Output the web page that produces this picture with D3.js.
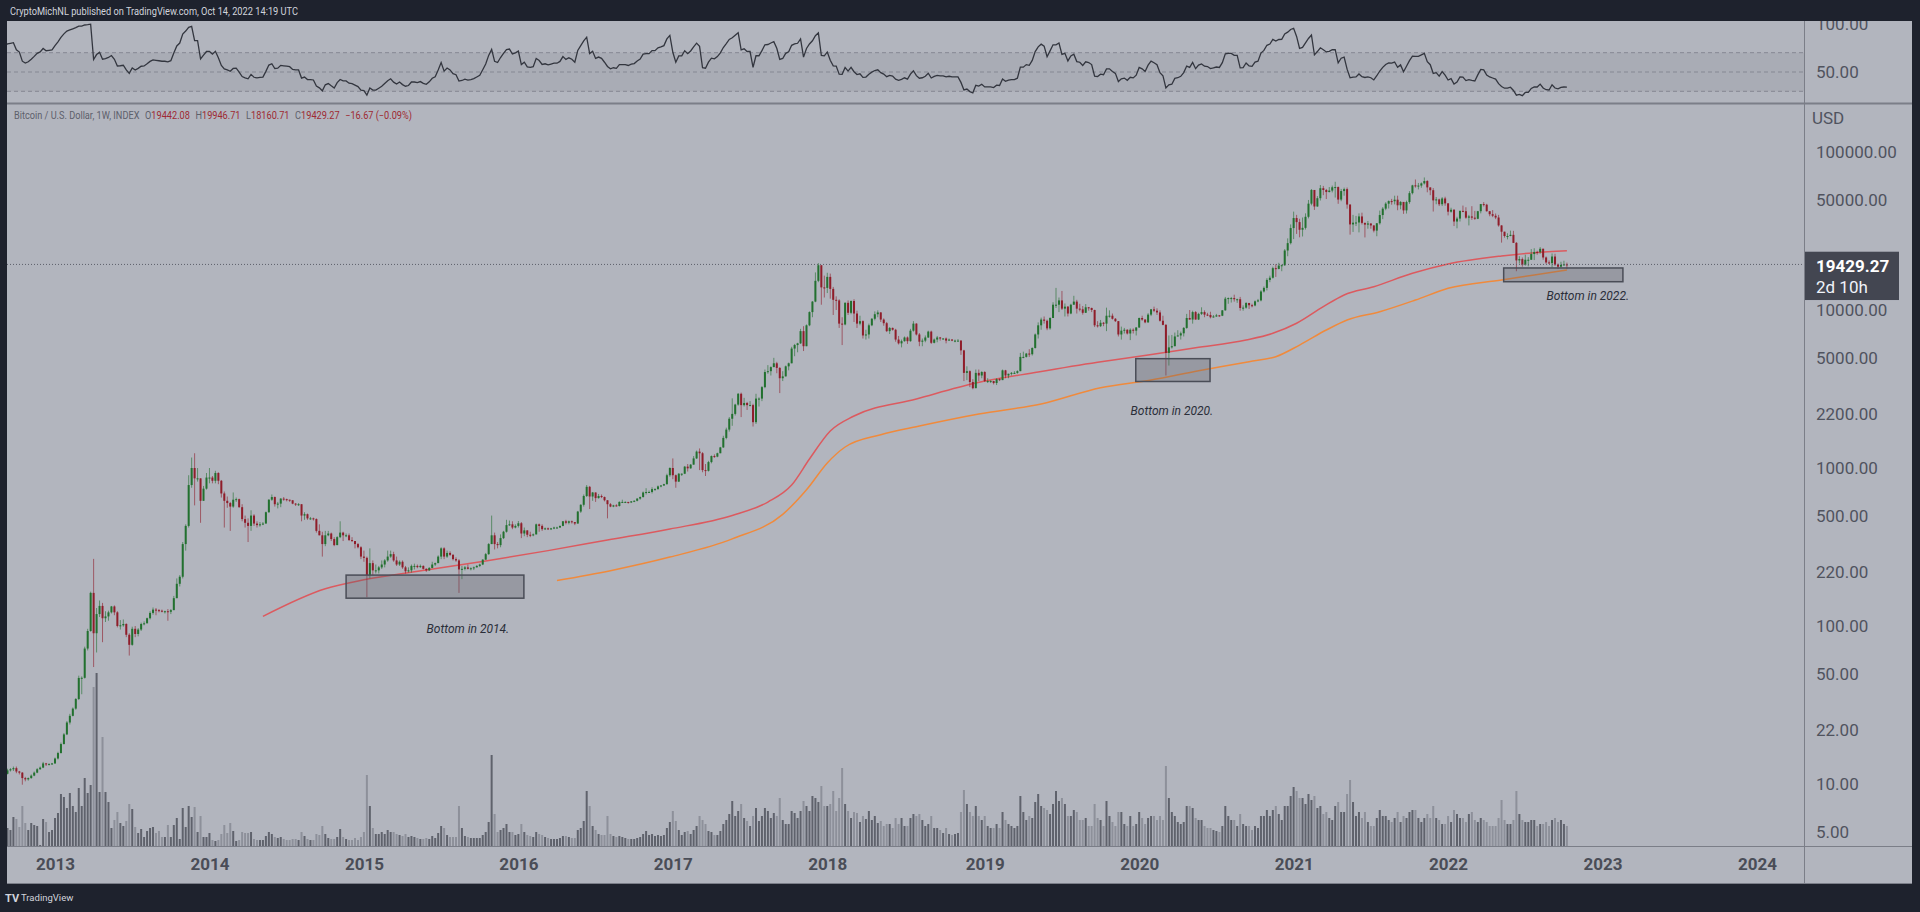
<!DOCTYPE html>
<html><head><meta charset="utf-8"><title>BTC weekly</title>
<script src="https://cdn.jsdelivr.net/npm/d3@7"></script>
<style>
html,body{margin:0;padding:0;background:#1e222d;overflow:hidden}
text{font-family:Roboto,"Noto Sans",Arial,sans-serif}
</style></head><body>
<svg id="chart" width="1920" height="912"></svg>
<script>
// ===== DATA (weekly bars, Monday weeks starting 2012-01-02; rows = [close, high, low, volume]) =====
const firstWeek = "2012-01-02";
const firstOpen = 5.2;
const y2012 = [
[6.9,7.2,5.2,20],[6.8,7.4,6.2,22],[6.3,6.9,5.9,18],[5.7,6.4,5.3,17],[5.9,6.2,5.4,15],
[5.6,6.0,5.4,14],[4.6,5.6,4.2,20],[4.9,5.0,4.3,18],[4.9,5.1,4.7,12],
[5.0,5.1,4.8,12],[5.3,5.5,4.9,12],[4.7,5.3,4.6,13],[4.9,5.0,4.7,11],
[4.9,5.0,4.8,10],[4.9,5.0,4.8,9],[5.1,5.2,4.9,9],[5.0,5.2,4.9,9],[5.0,5.1,4.9,8],
[5.0,5.1,4.9,8],[5.1,5.2,5.0,7],[5.1,5.2,5.0,7],[5.2,5.3,5.1,7],
[5.5,5.6,5.2,9],[5.9,6.1,5.5,10],[6.4,6.6,5.9,11],[6.7,6.9,6.3,11],
[6.6,6.9,6.4,10],[7.1,7.3,6.6,11],[8.5,8.9,7.1,15],[8.8,9.0,8.3,13],[9.3,9.6,8.8,12],
[10.9,11.2,9.2,16],[9.7,15.4,7.1,30],[10.1,10.9,9.3,16],[10.3,10.9,9.9,12],
[11.0,11.2,10.2,12],[11.6,11.8,10.9,14],[12.2,12.5,11.5,18],[12.4,12.6,12.0,16],
[12.6,12.9,12.1,29],[12.0,12.9,11.7,27],[11.8,12.1,11.5,19],[10.9,11.9,9.9,40],[10.7,11.1,10.4,23],
[10.9,11.0,10.5,16],[11.3,11.5,10.8,23],[11.8,12.0,11.2,21],[12.4,12.6,11.7,20],
[12.7,12.9,12.3,1],[13.5,13.8,12.6,27],[13.3,13.6,13.0,24],[13.4,13.5,13.1,14],[13.5,13.6,13.2,16]
];
const y2013 = [
[14.5,14.7,13.4,28],[15.7,16.0,14.3,33],[17.9,18.3,15.6,52],[20.6,21.0,17.8,49],
[24.5,25.0,20.4,38],[27.0,27.8,23.8,53],[30.0,30.5,26.8,40],[34.5,35.0,29.5,34],
[46.9,48.5,34.0,58],[47.0,48.0,37.0,40],[72.0,74.0,46.5,68],[93.0,96.0,70.0,53],
[162,165,92,61],[90,266,55,159],[119,130,68,173],[134,145,114,54],[112,140,79,109],
[115,124,106,54],[122,125,108,44],[133,134,120,18],[122,135,117,26],
[100,124,98,34],[101,109,95,23],[103,110,99,20],[88,104,85,25],
[76,90,65,42],[96,99,75,37],[89,100,85,19],[95,97,86,13],[103,105,93,17],
[104,107,101,9],[112,113,104,15],[121,124,110,18],[127,131,118,19],
[126,130,117,13],[125,128,122,15],[124,127,122,9],[124,125,120,9],[123,128,108,21],
[126,128,119,9],[150,155,126,21],[185,200,150,28],[205,210,178,7],
[330,340,200,38],[430,440,300,19],[780,900,420,40],[1000,1165,750,29],
[860,1240,580,39],[860,1000,820,14],[620,850,450,30],[740,770,620,9],[870,930,730,9]
];
const y2014 = [
[870,1000,800,13],[830,890,800,6],[930,960,800,5],[830,940,790,6],
[690,840,650,12],[620,710,420,21],[600,660,560,13],[570,610,400,23],
[630,700,560,15],[635,650,610,5],[565,640,560,6],[475,590,460,14],[450,500,420,13],
[430,480,340,13],[500,540,400,14],[445,510,430,7],[435,460,420,6],
[440,455,425,6],[445,455,435,6],[525,530,445,10],[630,635,520,14],
[655,680,620,12],[590,660,570,9],[595,610,555,8],[640,645,565,9],[635,655,620,7],
[630,640,615,6],[625,630,610,6],[595,625,590,7],[590,600,575,7],
[590,600,575,6],[500,590,460,14],[510,525,470,10],[480,515,470,7],
[480,490,470,6],[475,485,465,6],[400,480,390,12],[375,440,375,11],[330,395,275,20],
[375,400,320,12],[385,400,370,8],[355,390,345,7],[325,365,320,7],
[365,370,325,9],[390,460,360,17],[375,395,345,9],[375,385,365,7],
[350,385,345,6],[345,365,340,6],[330,345,310,8],[315,335,310,6],[275,320,265,9]
];
const y2015 = [
[270,300,255,14],[210,275,152,71],[250,310,200,40],[225,260,210,18],
[225,245,215,12],[235,240,215,12],[245,260,230,14],[260,265,235,12],
[275,300,255,16],[285,300,270,14],[260,295,255,14],[245,275,240,12],[255,260,240,11],
[235,260,230,10],[222,240,215,12],[225,235,218,9],[240,245,218,10],
[240,248,228,9],[236,245,232,8],[240,245,233,7],[230,242,228,7],
[225,232,220,8],[233,236,223,7],[245,255,232,10],[250,252,240,8],[275,280,250,13],
[310,315,265,20],[275,315,265,18],[290,300,270,11],[282,297,278,9],
[265,285,260,9],[260,272,255,9],[228,265,162,40],[230,240,198,18],[235,240,225,10],
[230,245,228,9],[232,235,225,8],[235,238,226,8],[240,243,235,8],
[245,248,236,8],[263,265,243,11],[285,290,262,14],[330,335,282,24],
[375,500,330,91],[330,390,305,32],[325,340,310,14],[360,380,315,16],[395,400,355,18],
[435,470,390,22],[440,465,430,14],[420,460,410,14],[430,440,415,11]
];
const y2016 = [
[447,462,420,12],[385,455,360,22],[403,420,370,14],[378,400,365,11],
[375,395,365,10],[380,385,370,9],[440,445,385,14],[430,445,395,12],[410,440,400,11],
[415,420,405,9],[410,420,405,8],[415,418,405,7],[420,425,410,7],
[420,425,415,7],[430,432,418,8],[460,462,428,10],[450,470,440,10],
[460,465,440,9],[455,465,445,8],[445,455,435,8],[530,535,445,16],[585,590,520,18],
[665,680,570,25],[760,780,655,55],[660,770,550,40],[700,705,620,20],
[645,700,610,16],[665,685,640,12],[655,680,645,11],[625,660,615,11],
[590,625,480,30],[570,600,565,12],[580,585,565,10],[575,590,570,9],[610,615,570,10],
[610,630,600,9],[610,615,600,8],[605,610,595,7],[615,618,600,7],
[620,625,608,7],[640,645,615,8],[655,660,630,9],[700,710,650,12],[705,745,680,15],
[705,720,695,11],[735,755,690,12],[735,745,720,10],[765,775,730,11],
[775,780,755,10],[790,795,770,11],[900,920,785,18],[1000,1010,880,24]
];
const y2017 = [
[900,1150,850,35],[820,910,750,25],[920,930,815,16],[920,925,890,11],[1020,1030,915,14],
[995,1060,950,15],[1050,1060,990,12],[1150,1190,1050,16],[1270,1290,1140,20],
[1240,1330,970,30],[970,1260,940,26],[960,1060,890,22],[1090,1110,950,15],
[1190,1200,1070,14],[1180,1220,1160,11],[1240,1250,1170,11],[1350,1360,1240,15],
[1550,1600,1340,22],[1750,1800,1520,26],[2050,2100,1700,32],[2200,2760,1850,45],[2520,2550,2150,30],
[2950,2980,2480,35],[2500,3000,2100,42],[2580,2780,2450,28],[2500,2620,2330,25],
[2500,2650,2470,20],[1950,2550,1830,30],[2750,2950,1900,38],[2750,2800,2450,25],[3250,3300,2650,30],
[4050,4200,3200,38],[4100,4480,3950,35],[4350,4400,3850,28],[4600,4980,4350,33],
[4300,4700,3980,30],[3700,4350,2980,48],[3800,4100,3550,26],[4400,4450,3800,22],
[4600,4650,4150,22],[5700,5850,4600,35],[6000,6100,5100,33],[6150,6200,5400,28],[7350,7600,6100,35],
[5900,7900,5500,45],[8000,8100,5900,40],[9700,9800,7900,35],[11300,11400,9000,50],
[15300,17300,11200,48],[19200,19800,15000,44],[13900,19100,10800,60],[13800,16500,12000,40]
];
const y2018 = [
[16200,17200,12800,40],[13600,17000,11800,42],[11600,14000,9300,55],[11500,12200,10000,35],[8200,11700,7700,48],
[8100,9000,6000,78],[11100,11200,8000,42],[9600,11500,9300,35],[11400,11500,9400,28],
[9500,11700,8400,34],[8200,9900,7700,33],[8500,9200,8000,24],[6900,8600,6600,30],
[7000,7500,6500,27],[8000,8200,6600,35],[8800,8900,7900,26],[9400,9800,8600,30],[9650,9950,9000,23],
[8700,9700,8400,25],[8250,8850,7950,20],[7350,8400,7250,22],[7700,7800,7050,22],
[7500,7750,7400,18],[6500,7600,6300,28],[6150,6850,6050,22],[6350,6500,5800,28],
[6700,6800,6300,20],[6350,6800,6100,20],[7400,7600,6300,28],[8200,8500,7300,32],[7000,8250,6900,30],
[6300,7150,5900,32],[6400,6600,5900,26],[6700,6900,6250,20],[7300,7400,6650,22],
[6200,7400,6100,30],[6500,6600,6150,18],[6700,6850,6250,18],[6600,6750,6400,16],
[6600,6650,6500,13],[6400,6700,6150,18],[6500,6600,6400,12],[6400,6550,6350,11],[6400,6500,6250,12],
[6400,6550,6350,13],[5550,6450,5200,34],[4000,5600,3550,56],[4100,4400,3600,42],
[3500,4150,3250,34],[3200,3650,3150,30],[4000,4200,3200,40],[3850,4200,3550,30],[4050,4100,3700,26]
];
const y2019 = [
[3550,4100,3500,30],[3550,3700,3450,20],[3550,3600,3450,18],[3450,3560,3380,18],
[3650,3700,3350,22],[3600,3700,3550,18],[4150,4200,3600,34],[3850,4180,3700,26],
[3950,3950,3700,22],[4000,4050,3850,20],[4000,4100,3950,18],[4100,4150,3950,20],
[5050,5350,4100,50],[5050,5450,4950,34],[5300,5350,5000,26],[5250,5650,5050,30],[5750,5800,5150,28],
[7000,7100,5700,44],[8000,8350,6600,52],[8700,8950,7500,40],[8550,9100,8200,38],
[7650,8700,7450,36],[8900,9000,7500,32],[10800,11200,8900,42],[10800,13800,10300,55],
[11500,12000,9700,45],[10200,13200,10000,48],[10500,11000,9100,42],[9500,10600,9100,30],[10800,10950,9400,30],
[11300,12300,10800,36],[10200,11600,9500,34],[10100,10950,9800,26],[9600,10600,9350,26],
[10400,10900,9600,28],[10300,10450,9900,20],[10000,10350,9700,20],[8000,10050,7800,42],[7900,8500,7750,28],
[8300,8650,7800,26],[8200,8400,7900,20],[9200,10350,7350,45],[9200,9950,8950,30],
[8800,9500,8700,24],[8500,8900,8400,20],[7000,8500,6800,34],[7400,7850,6500,34],
[7500,7700,7100,22],[7100,7550,7000,20],[7500,7650,6450,30],[7400,7650,7100,20],[7750,7800,6900,22]
];
const y2020 = [
[8900,8950,7700,34],[8700,9200,8550,28],[8350,8750,8250,22],[9350,9550,8300,28],
[10100,10150,9150,30],[9900,10500,9700,30],[9650,10250,9300,26],[8550,9950,8450,30],
[8050,9200,8000,26],[5350,8150,3850,80],[5800,6900,4450,48],[5900,6950,5700,34],[6800,7200,5900,30],
[6900,7450,6800,24],[7120,7300,6500,22],[7700,7800,6800,24],[8900,9450,7600,40],
[8700,10000,8700,40],[9700,9900,8200,38],[8700,9850,8700,28],[9450,9600,8650,26],
[9700,10400,9300,26],[9350,9950,9000,20],[9300,9600,9150,18],[9000,9750,8850,18],[9100,9300,8950,16],
[9250,9450,9050,15],[9200,9300,9050,14],[9950,10000,9150,20],[11800,12100,9900,40],
[11900,12000,10950,30],[11900,12100,11150,26],[11700,12500,11300,26],[11700,11800,11100,20],[10300,12100,9900,32],
[10350,10700,9900,22],[11080,11200,10200,20],[10720,11000,10150,20],[10680,10950,10400,16],
[11350,11500,10550,20],[11500,11750,11200,18],[13100,13350,11350,30],[13800,14100,12900,30],
[15500,15900,13300,36],[16000,16500,15000,30],[18400,18800,15800,36],[18200,19500,16200,40],[19100,19900,18100,32],
[19200,19400,17600,26],[23800,24300,19000,40],[26500,28400,21900,40],[33000,34800,26000,50]
];
const y2021 = [
[38200,41950,28100,59],[36000,40000,30300,55],[32200,37800,28850,48],[33100,38500,29200,48],
[38900,40900,32300,42],[47100,49700,38000,52],[57500,58300,46000,46],[45200,57500,43000,50],
[51000,52600,45000,38],[59000,61800,49300,40],[57500,61000,53300,32],[55800,58400,50400,34],[57000,60000,55500,28],
[59800,61300,55500,26],[60000,64800,51500,40],[50000,60500,47000,44],[56600,58400,48800,34],
[58200,59500,52900,34],[46500,59600,43800,52],[34800,46600,30000,66],[35700,40000,31200,44],[35800,39400,34000,30],
[39100,40900,31000,34],[35600,41300,34800,28],[34700,35700,28800,34],[35300,36600,32700,24],
[34300,35100,32700,20],[31800,34000,31000,20],[35400,35500,29300,28],[39900,42600,34700,36],
[43800,44800,37600,30],[47100,48100,42800,30],[48900,49400,43900,26],[48800,50500,46400,24],[49900,52900,46600,28],
[46000,52900,42800,34],[48300,48900,43400,24],[42700,47300,40600,30],[48200,49200,40800,28],
[54900,56500,47000,34],[61500,62000,53900,36],[61300,67000,59500,36],[61300,63700,58000,28],
[63300,64200,59400,24],[65500,69000,62300,28],[59700,66300,55600,32],[57300,59400,53300,28],[49400,59100,42000,40],
[50100,51900,46700,28],[46700,50700,45500,26],[50800,51800,45500,22],[47300,52100,45700,22]
];
const y2022 = [
[41900,47500,39700,30],[43100,44400,41300,24],[36300,43500,34000,36],[37900,38900,32900,32],[42400,42600,36300,28],
[42200,45800,41600,28],[38400,44700,37800,24],[39100,40000,34300,32],[38400,45400,37200,34],
[37800,42400,37200,26],[42200,42400,37600,24],[46800,46900,40900,28],[46400,48200,45200,26],
[42200,47000,41900,24],[40400,41600,39200,20],[39500,42900,38700,20],[38500,40800,37600,20],
[34300,40000,33700,28],[31300,34400,26700,46],[29400,31300,28700,26],[29400,30600,28000,22],[29900,31800,29300,22],
[26600,31700,26600,26],[20600,26900,17600,55],[21000,21900,19700,32],[19300,21500,18800,26],
[20800,22400,19100,24],[20800,21600,18900,24],[22600,24300,20800,26],[23300,24600,20700,26],
[23200,23700,22400,20],[24400,25000,22700,22],[21500,24500,20800,22],[20000,21800,19600,24],[19800,20600,19600,20],
[21800,22800,18600,26],[19400,22700,19000,28],[18800,19700,18200,24],[19300,20200,18500,26],
[19442.08,20500,19100,22],[19429.27,19946.71,18160.71,20]
];

// moving averages (200-week red, 300-week orange)
const ma200Dates = ['2014-05-12','2014-10-06','2015-01-05','2015-06-01','2015-10-19','2016-03-14','2016-08-01','2016-12-26','2017-05-22','2017-08-14','2017-10-09','2017-11-20','2018-01-08','2018-03-05','2018-07-30','2018-12-17','2019-05-13','2019-09-30','2020-01-27','2020-05-18','2020-09-14','2020-11-16','2021-01-11','2021-03-15','2021-05-03','2021-07-12','2021-10-11','2022-01-03','2022-05-09','2022-07-25','2022-10-10'];
const ma200Values = [115,172,196,226,258,300,350,411,501,609,780,1140,1714,2133,2734,3450,4050,4667,5190,5770,6460,7120,8240,10500,12450,14040,17070,19550,21970,23050,23730];
const ma300Dates = ['2016-04-04','2016-08-08','2016-12-26','2017-05-22','2017-09-18','2017-11-13','2018-01-01','2018-02-12','2018-05-07','2018-08-06','2018-12-24','2019-05-20','2019-10-07','2020-02-03','2020-05-25','2020-09-21','2020-11-23','2021-01-18','2021-03-22','2021-05-10','2021-07-26','2021-10-18','2022-01-03','2022-05-09','2022-07-25','2022-10-10'];
const ma300Values = [194,224,273,356,509,728,1077,1358,1625,1845,2198,2543,3222,3606,4129,4709,5063,6000,7470,8646,9750,11560,13720,15490,16650,17910];

// annotation boxes
const boxStart = ['2014-11-24','2019-12-29','2022-05-14'];
const boxEnd   = ['2016-01-17','2020-06-21','2023-02-19'];
const boxHigh  = [210, 4920, 18450];
const boxLow   = [150, 3528, 15100];
const boxLabels = ['Bottom in 2014.','Bottom in 2020.','Bottom in 2022.'];
const labelDates = ['2015-09-07','2020-03-23','2022-11-28'];
const labelPrices = [95.5, 2305, 12264];

// axis ticks
const priceTicks = [100000,50000,20000,10000,5000,2200,1000,500,220,100,50,22,10,5];
const rsiTicks = [100,50];
const rsiLevels = [70,50,30];
const yearTicks = ['2013-01-07','2014-01-06','2015-01-05','2016-01-04','2017-01-02','2018-01-01','2019-01-07','2020-01-06','2021-01-04','2022-01-03','2023-01-02','2024-01-01'];

const headerText = 'CryptoMichNL published on TradingView.com, Oct 14, 2022 14:19 UTC';
const symbolText = 'Bitcoin / U.S. Dollar, 1W, INDEX';
const ohlcLabels = ['O','H','L','C'];
const ohlcValues = ['19442.08','19946.71','18160.71','19429.27'];
const changeText = '\u221216.67 (\u22120.09%)';
const lastPrice = 19429.27;
const countdown = '2d 10h';

// ===== RENDER =====
const pd = s => { const [a,b,c] = s.split('-').map(Number); return new Date(Date.UTC(a,b-1,c)); };
const rows = [].concat(y2012,y2013,y2014,y2015,y2016,y2017,y2018,y2019,y2020,y2021,y2022);
const t0 = pd(firstWeek).getTime();
let prevClose = firstOpen;
const bars = rows.map((r,i)=>{ const b={t:new Date(t0+i*7*864e5),o:prevClose,c:r[0],h:r[1],l:r[2],v:r[3]}; prevClose=r[0]; return b; });

function rsiCalc(cl,n){
  const out=new Array(cl.length).fill(null); let au=0,ad=0;
  for(let i=1;i<cl.length;i++){
    const ch=cl[i]-cl[i-1], u=Math.max(ch,0), d=Math.max(-ch,0);
    if(i<=n){ au+=u; ad+=d; if(i===n){ au/=n; ad/=n; out[i]=ad===0?100:100-100/(1+au/ad);} }
    else { au=(au*(n-1)+u)/n; ad=(ad*(n-1)+d)/n; out[i]=ad===0?100:100-100/(1+au/ad); }
  }
  return out;
}
const rsiVals = rsiCalc(bars.map(b=>b.c),14);
bars.forEach((b,i)=>b.rsi=rsiVals[i]);

const W=1920,H=912;
const L=7, R=1804, RE=1912, TOP=21, RSIB=103, AXY=846, BOT=884;
const x = d3.scaleUtc().domain([pd('2013-01-07'),pd('2024-01-01')]).range([55,1757]);
const y = d3.scaleLog().domain([10,100000]).range([784,152]);
const yr = d3.scaleLinear().domain([0,100]).range([120.25,23.75]);
const yv = d3.scaleLinear().domain([0,173]).range([AXY,673]);

const svg = d3.select('#chart');
const defs = svg.append('defs');
defs.append('clipPath').attr('id','cMain').append('rect').attr('x',L).attr('y',RSIB+1).attr('width',R-L).attr('height',AXY-RSIB-1);
defs.append('clipPath').attr('id','cRsi').append('rect').attr('x',L).attr('y',TOP).attr('width',R-L).attr('height',RSIB-TOP);
defs.append('clipPath').attr('id','cRsiAx').append('rect').attr('x',R).attr('y',TOP).attr('width',RE-R).attr('height',RSIB-TOP);

svg.append('rect').attr('width',W).attr('height',H).attr('fill','#1e222d');
svg.append('rect').attr('x',L).attr('y',TOP).attr('width',RE-L).attr('height',BOT-TOP).attr('fill','#b2b5be');

// header
svg.append('text').attr('x',10).attr('y',11.5).attr('dy','0.35em').attr('font-size',10).attr('fill','#d1d4dc')
  .attr('textLength',288).attr('lengthAdjust','spacingAndGlyphs').text(headerText);

// ---- RSI pane ----
const rsiG = svg.append('g').attr('clip-path','url(#cRsi)');
rsiG.append('rect').attr('x',L).attr('width',R-L).attr('y',yr(70)).attr('height',yr(30)-yr(70)).attr('fill','rgba(110,113,124,0.13)');
rsiG.selectAll('line.lvl').data(rsiLevels).join('line').attr('class','lvl')
  .attr('x1',L).attr('x2',R).attr('y1',d=>yr(d)).attr('y2',d=>yr(d))
  .attr('stroke','#858893').attr('stroke-width',1).attr('stroke-dasharray','4,3');
rsiG.append('path').datum(bars.filter(b=>b.rsi!==null))
  .attr('d',d3.line().x(b=>x(b.t)).y(b=>yr(b.rsi)))
  .attr('fill','none').attr('stroke','#33363f').attr('stroke-width',1.3);
const rsiAx = svg.append('g').attr('clip-path','url(#cRsiAx)').append('g').attr('transform',`translate(${R},0)`)
  .call(d3.axisRight(yr).tickValues(rsiTicks).tickFormat(d3.format('.2f')).tickSize(0).tickPadding(12));
rsiAx.select('.domain').remove();
rsiAx.selectAll('text').attr('font-size',17).attr('fill','#50535e').attr('font-family','Roboto, sans-serif');

// ---- Main pane ----
const mainG = svg.append('g').attr('clip-path','url(#cMain)');
// volume
mainG.append('g').selectAll('rect').data(bars).join('rect')
  .attr('x',b=>x(b.t)-1).attr('width',2)
  .attr('y',b=>yv(b.v)).attr('height',b=>AXY-yv(b.v))
  .attr('fill',b=>b.c>=b.o?'#5f626c':'#8d909a');
// moving averages
const ma200 = ma200Dates.map((d,i)=>({t:pd(d),v:ma200Values[i]}));
const ma300 = ma300Dates.map((d,i)=>({t:pd(d),v:ma300Values[i]}));
const maLine = d3.line().x(d=>x(d.t)).y(d=>y(d.v)).curve(d3.curveMonotoneX);
mainG.append('path').datum(ma300).attr('d',maLine).attr('fill','none').attr('stroke','#f08a3c').attr('stroke-width',1.5);
mainG.append('path').datum(ma200).attr('d',maLine).attr('fill','none').attr('stroke','#dc5a5f').attr('stroke-width',1.5);
// candles
const up='#22702f', dn='#8f1d2a';
const cg = mainG.append('g');
cg.selectAll('rect.wick').data(bars).join('rect').attr('class','wick')
  .attr('x',b=>x(b.t)-0.5).attr('width',1)
  .attr('y',b=>y(Math.max(b.h,b.o,b.c))).attr('height',b=>Math.max(1,y(Math.min(b.l,b.o,b.c))-y(Math.max(b.h,b.o,b.c))))
  .attr('fill',b=>b.c>=b.o?up:dn).attr('opacity',0.6);
cg.selectAll('rect.body').data(bars).join('rect').attr('class','body')
  .attr('x',b=>x(b.t)-1).attr('width',2)
  .attr('y',b=>y(Math.max(b.o,b.c))).attr('height',b=>Math.max(1,Math.abs(y(b.o)-y(b.c))))
  .attr('fill',b=>b.c>=b.o?up:dn);
// boxes
const boxes = boxStart.map((s,i)=>({s:pd(s),e:pd(boxEnd[i]),hi:boxHigh[i],lo:boxLow[i],lab:boxLabels[i],lt:pd(labelDates[i]),lp:labelPrices[i]}));
mainG.selectAll('rect.box').data(boxes).join('rect').attr('class','box')
  .attr('x',d=>x(d.s)).attr('width',d=>x(d.e)-x(d.s))
  .attr('y',d=>y(d.hi)).attr('height',d=>y(d.lo)-y(d.hi))
  .attr('fill','rgba(88,91,100,0.30)').attr('stroke','#4a4d57').attr('stroke-width',1.5);
mainG.selectAll('text.lab').data(boxes).join('text').attr('class','lab')
  .attr('x',d=>x(d.lt)).attr('y',d=>y(d.lp)).attr('dy','0.35em').attr('text-anchor','middle')
  .attr('font-size',12).attr('font-style','italic').attr('fill','#2a2e39').text(d=>d.lab);
// last price dotted line
mainG.append('line').attr('x1',L).attr('x2',R).attr('y1',y(lastPrice)).attr('y2',y(lastPrice))
  .attr('stroke','#5d606b').attr('stroke-width',1).attr('stroke-dasharray','1,2');

// legend: separate text pieces laid out side by side, then scaled to the reference width
const legendParts = [{t:symbolText,c:'#5d606b'}];
ohlcLabels.forEach((k,i)=>{ legendParts.push({t:k,c:'#5d606b',gap:6}); legendParts.push({t:ohlcValues[i],c:'#9e2a33'}); });
legendParts.push({t:changeText,c:'#9e2a33',gap:6});
const lgG = svg.append('g');
let cx = 0;
legendParts.forEach(p=>{
  cx += (p.gap||0);
  const t = lgG.append('text').attr('x',cx).attr('y',0).attr('dy','0.35em').attr('font-size',10).attr('fill',p.c).text(p.t);
  cx += t.node().getComputedTextLength();
});
const lgScale = Math.min(1.1, 398/cx);
lgG.attr('transform',`translate(14,115) scale(${lgScale},1)`);

// price axis
const pax = svg.append('g').attr('transform',`translate(${R},0)`)
  .call(d3.axisRight(y).tickValues(priceTicks).tickFormat(d3.format('.2f')).tickSize(0).tickPadding(12));
pax.select('.domain').remove();
pax.selectAll('text').attr('font-size',17).attr('fill','#50535e').attr('font-family','Roboto, sans-serif');
svg.append('text').attr('x',1812).attr('y',118).attr('dy','0.35em').attr('font-size',17).attr('fill','#50535e').text('USD');
// last price label
const ly = y(lastPrice);
svg.append('rect').attr('x',R).attr('y',ly-12.7).attr('width',95).attr('height',48.3).attr('fill','#434651');
svg.append('text').attr('x',1816).attr('y',ly+1.3).attr('dy','0.35em').attr('font-size',17).attr('font-weight','bold').attr('fill','#ffffff').text(d3.format('.2f')(lastPrice));
svg.append('text').attr('x',1816).attr('y',ly+22.6).attr('dy','0.35em').attr('font-size',17).attr('fill','#f0f3fa').text(countdown);

// time axis
const tax = svg.append('g').attr('transform',`translate(0,${AXY})`)
  .call(d3.axisBottom(x).tickValues(yearTicks.map(pd)).tickFormat(d3.utcFormat('%Y')).tickSize(0));
tax.select('.domain').remove();
tax.selectAll('text').attr('y',18).attr('dy','0.35em').attr('font-size',17).attr('font-weight','bold').attr('fill','#4a4d57').attr('font-family','Roboto, sans-serif');

// separators
const sep = '#7b7e88';
svg.append('line').attr('x1',L).attr('x2',RE).attr('y1',RSIB+0.5).attr('y2',RSIB+0.5).attr('stroke',sep).attr('stroke-width',2);
svg.append('line').attr('x1',R+0.5).attr('x2',R+0.5).attr('y1',TOP).attr('y2',BOT).attr('stroke',sep).attr('stroke-width',1);
svg.append('line').attr('x1',L).attr('x2',RE).attr('y1',AXY+0.5).attr('y2',AXY+0.5).attr('stroke',sep).attr('stroke-width',1);
svg.append('line').attr('x1',L).attr('x2',RE).attr('y1',BOT-0.5).attr('y2',BOT-0.5).attr('stroke',sep).attr('stroke-width',1);

// footer logo
svg.append('text').attr('x',5).attr('y',898).attr('dy','0.35em').attr('font-size',11).attr('font-weight','bold').attr('fill','#d1d4dc').text('TV');
svg.append('text').attr('x',21).attr('y',898).attr('dy','0.35em').attr('font-size',9.5).attr('fill','#d1d4dc').text('TradingView');
</script></body></html>
